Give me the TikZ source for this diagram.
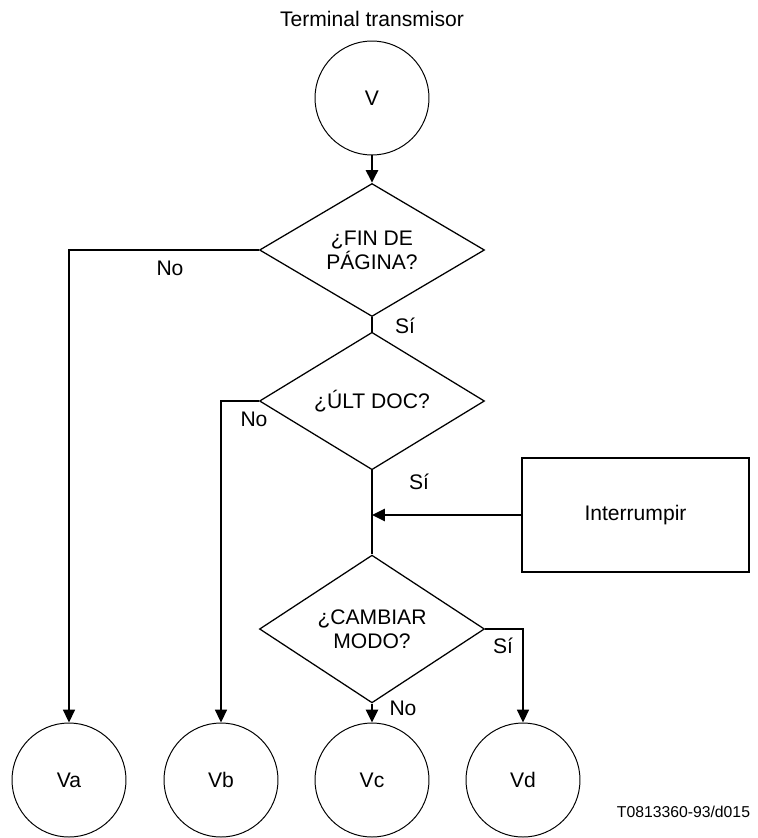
\documentclass[tikz,border=0pt]{standalone}
\usepackage{fontspec}
\setmainfont{Liberation Sans}
\usepackage{tikz}
\usetikzlibrary{shapes.geometric, arrows.meta, positioning}

\begin{document}
\begin{tikzpicture}[
    font=\fontsize{15}{17}\selectfont,
    terminal/.style={circle, draw=black, line width=0.7pt, minimum size=2.85cm, inner sep=0pt, align=center},
    decision/.style={diamond, draw=black, line width=0.9pt, minimum width=5.625cm, minimum height=3.325cm, inner sep=0pt, align=center},
    process/.style={rectangle, draw=black, line width=0.9pt, minimum width=5.675cm, minimum height=2.85cm, align=center},
    flow/.style={line width=1.7pt},
    arrow/.style={-{Triangle[length=3.2mm, width=3mm]}, line width=1.7pt},
    branch/.style={-{Triangle[length=3.2mm, width=3mm]}, line width=0.9pt},
    answer/.style={inner sep=0pt}
]
    \useasboundingbox (-9.3, 2.45) rectangle (9.625, -18.5);

    % Main flow
    \node (title) at (0, 1.97) {Terminal transmisor};
    \node[terminal] (v) at (0, 0) {V};
    \node[decision] (fin) at (0, -3.8) {¿FIN DE\\PÁGINA?};
    \node[decision] (ult) at (0, -7.575) {¿ÚLT DOC?};
    \coordinate (join) at (0, -10.425);
    \node[process] (interr) at (6.5875, -10.425) {Interrumpir};
    \node[decision] (modo) at (0, -13.275) {¿CAMBIAR\\MODO?};

    % Exits
    \node[terminal] (va) at (-7.575, -17.05) {Va};
    \node[terminal] (vb) at (-3.775, -17.05) {Vb};
    \node[terminal] (vc) at (0, -17.05) {Vc};
    \node[terminal] (vd) at (3.775, -17.05) {Vd};

    \draw[arrow] (v) -- (fin);
    \draw[flow] (fin) -- (ult);
    \draw[flow] (ult) -- (modo);
    \draw[arrow] (interr) -- (join);
    \draw[arrow] (modo) -- (vc);
    \draw[branch] (fin.west) -| (va);
    \draw[branch] (ult.west) -| (vb);
    \draw[branch] (modo.east) -| (vd);

    % Answers
    \node[answer] (no1) at (-5.05, -4.25) {No};
    \node[answer] (si1) at (0.825, -5.7) {Sí};
    \node[answer] (no2) at (-2.95, -8.025) {No};
    \node[answer] (si2) at (1.175, -9.6) {Sí};
    \node[answer] (si3) at (3.275, -13.7) {Sí};
    \node[answer] (no3) at (0.775, -15.25) {No};

    \node[anchor=east, font=\fontsize{11.2}{13}\selectfont] (ref) at (9.575, -17.85) {T0813360-93/d015};
\end{tikzpicture}
\end{document}
